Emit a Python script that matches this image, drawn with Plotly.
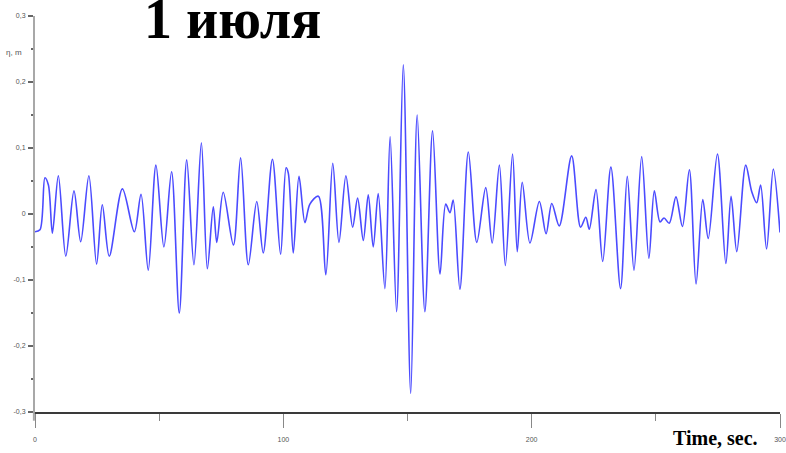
import plotly.graph_objects as go

# Wave record, 1 July: surface elevation eta (m) at the turning points of the trace
time_s = [0, 2.0, 4.0, 5.4, 7.0, 9.4, 12.4, 15.7, 18.4, 21.7, 24.8, 27.1, 29.9, 35.2, 40.0,
          42.7, 45.6, 48.7, 51.9, 55.0, 58.1, 61.1, 64.0, 67.0, 69.4, 71.8, 73.2, 75.8, 79.9,
          82.8, 85.9, 89.3, 91.9, 95.6, 98.9, 101.1, 102.0, 104.0, 106.3, 108.7, 110.7, 114.1,
          117.1, 119.9, 122.4, 125.2, 127.9, 129.9, 132.2, 134.2, 136.2, 138.2, 140.9, 143.0,
          145.6, 148.3, 151.3, 153.9, 157.0, 160.1, 163.1, 165.4, 167.1, 168.4, 171.1, 174.5,
          177.9, 181.5, 184.1, 187.0, 189.4, 192.3, 194.2, 196.2, 199.3, 203.1, 205.8, 208.1,
          211.1, 216.1, 219.7, 221.8, 223.2, 225.9, 228.6, 231.9, 235.8, 238.5, 241.2, 244.3,
          247.2, 249.4, 251.7, 253.3, 255.4, 258.1, 260.7, 263.5, 266.2, 268.9, 271.1, 274.8,
          278.2, 280.3, 282.6, 286.2, 288.6, 290.6, 292.2, 294.6, 297.3, 300.0]
eta_m = [-0.027, -0.024, 0.055, 0.044, -0.029, 0.058, -0.064, 0.035, -0.042, 0.058, -0.076,
         0.014, -0.064, 0.038, -0.027, 0.030, -0.085, 0.074, -0.050, 0.064, -0.150, 0.082,
         -0.077, 0.108, -0.083, 0.011, -0.043, 0.033, -0.047, 0.085, -0.077, 0.019, -0.059,
         0.083, -0.061, 0.070, 0.062, -0.059, 0.057, -0.013, 0.015, 0.027, -0.092, 0.077,
         -0.043, 0.058, -0.020, 0.024, -0.040, 0.029, -0.050, 0.031, -0.113, 0.117, -0.148,
         0.226, -0.272, 0.150, -0.148, 0.126, -0.091, 0.015, 0.002, 0.021, -0.114, 0.094,
         -0.043, 0.040, -0.044, 0.074, -0.078, 0.091, -0.057, 0.048, -0.044, 0.019, -0.030,
         0.016, -0.018, 0.088, -0.020, -0.005, -0.023, 0.037, -0.072, 0.071, -0.113, 0.057,
         -0.085, 0.087, -0.067, 0.035, -0.012, -0.006, -0.014, 0.026, -0.019, 0.067, -0.106,
         0.022, -0.037, 0.091, -0.075, 0.027, -0.057, 0.074, 0.034, 0.017, 0.044, -0.053,
         0.068, -0.028]

y_ticks = [-0.3, -0.2, -0.1, 0, 0.1, 0.2, 0.3]
y_tick_text = ["-0,3", "-0,2", "-0,1", "0", "0,1", "0,2", "0,3"]
x_ticks = [0, 100, 200, 300]
x_tick_text = ["0", "100", "200", "300"]

title_text = "1 июля"
x_title = "Time, sec."
y_title = "η, m"

fig = go.Figure()
fig.add_trace(go.Scatter(
    x=time_s, y=eta_m, mode="lines",
    line=dict(color="#4b4bff", width=1.6, shape="spline", smoothing=0.9),
    hoverinfo="skip", showlegend=False,
))

fig.update_layout(
    width=786, height=453,
    margin=dict(l=35, r=6, t=16, b=41),
    paper_bgcolor="white", plot_bgcolor="white",
    showlegend=False,
)

fig.update_xaxes(
    range=[0, 300], showgrid=False, zeroline=False, automargin=False,
    showline=True, linecolor="#3a3a3a", linewidth=2,
    tickmode="array", tickvals=x_ticks, ticktext=x_tick_text,
    ticks="outside", ticklen=14, tickwidth=1, tickcolor="#888",
    tickfont=dict(family="Liberation Sans Narrow, Liberation Sans", size=7, color="#555"),
    ticklabelstandoff=6,
    minor=dict(dtick=50, tick0=0, ticks="outside", ticklen=7, tickwidth=1, tickcolor="#888"),
)
fig.update_yaxes(
    range=[-0.3, 0.3], showgrid=False, zeroline=False, automargin=False,
    showline=True, linecolor="#a8a8a8", linewidth=2,
    tickmode="array", tickvals=y_ticks, ticktext=y_tick_text,
    ticks="outside", ticklen=5, tickwidth=2, tickcolor="#666",
    tickfont=dict(family="Liberation Sans Narrow, Liberation Sans", size=7, color="#555"),
    ticklabelstandoff=1,
    minor=dict(dtick=0.05, tick0=0, ticks="outside", ticklen=2, tickwidth=2, tickcolor="#666"),
)

# vertical axis continues a little below the time axis
fig.add_shape(type="line", xref="paper", yref="paper", x0=-0.0015, x1=-0.0015, y0=-0.022, y1=0,
              line=dict(color="#a8a8a8", width=2))

fig.add_annotation(text=f"<b>{title_text}</b>", xref="paper", yref="paper",
                   x=0.265, y=0.992, xanchor="center", yanchor="middle", showarrow=False,
                   font=dict(family="Liberation Serif", size=56, color="black"))
fig.add_annotation(text=f"<b>{x_title}</b>", xref="paper", yref="paper",
                   x=0.973, y=-0.066, xanchor="right", yanchor="middle", showarrow=False,
                   font=dict(family="Liberation Serif", size=20, color="black"))
fig.add_annotation(text=y_title, xref="paper", yref="paper",
                   x=-0.042, y=0.908, xanchor="left", yanchor="middle", showarrow=False,
                   font=dict(family="Liberation Sans Narrow, Liberation Sans", size=8, color="#555"))

fig.write_html("out.html")
